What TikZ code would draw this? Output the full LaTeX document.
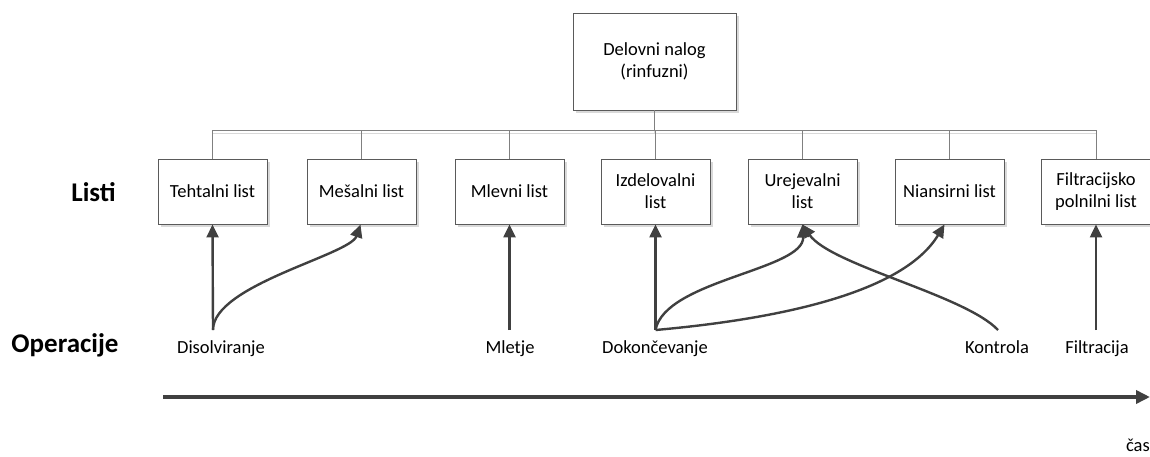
\documentclass[tikz,border=0pt]{standalone}
\usepackage{fontspec}
\setmainfont{Carlito}
\usetikzlibrary{arrows.meta,shadows}
\definecolor{boxline}{HTML}{5A5A5A}
\definecolor{arrowc}{HTML}{404040}
\definecolor{busc}{HTML}{808080}
\definecolor{shadc}{HTML}{D9D9D9}
\tikzset{
  listbox/.style={draw=boxline, line width=0.9pt, fill=white,
    minimum width=109pt, minimum height=65pt, inner sep=2pt,
    align=center, font=\fontsize{18.5}{22}\selectfont,
    drop shadow={shadow xshift=3pt, shadow yshift=-3pt, fill=shadc, opacity=1}},
  oplabel/.style={font=\fontsize{18.5}{22}\selectfont, inner sep=0pt,
    text height=12pt, text depth=4pt},
  rowlabel/.style={font=\fontsize{27}{30}\selectfont\bfseries, inner sep=0pt},
  bus/.style={draw=busc, line width=0.9pt},
  busshadow/.style={draw=shadc, line width=0.9pt, shift={(3,3)}},
  flow/.style={draw=arrowc, line width=2.4pt, -{Triangle[length=13pt,width=12pt]}},
  timeaxis/.style={draw=arrowc, line width=3.5pt, -{Triangle[length=14pt,width=13pt]}}
}
\begin{document}
\begin{tikzpicture}[x=1pt,y=-1pt]
\useasboundingbox (0,0) rectangle (1150,457);

% work order and the sheets it is split into
\node[listbox, minimum width=163pt, minimum height=97pt] (nalog) at (654.5,61.5) {Delovni nalog\\(rinfuzni)};
\node[listbox] (teh) at (212.5,191.5) {Tehtalni list};
\node[listbox] (mes) at (361.5,191.5) {Mešalni list};
\node[listbox] (mle) at (509.5,191.5) {Mlevni list};
\node[listbox] (izd) at (655.5,191.5) {Izdelovalni\\list};
\node[listbox] (ure) at (802.5,191.5) {Urejevalni\\list};
\node[listbox] (nia) at (949.5,191.5) {Niansirni list};
\node[listbox] (fil) at (1096,191.5) {Filtracijsko\\polnilni list};

% tree connectors (shadow first, then the line)
\foreach \s in {busshadow,bus}{
  \draw[\s] (nalog.south) -- (nalog.south |- 0,130);
  \draw[\s] (teh.north) -- (teh.north |- 0,130) -- (fil.north |- 0,130) -- (fil.north);
  \foreach \n in {mes,mle,izd,ure,nia}
    \draw[\s] (\n.north) -- (\n.north |- 0,130);
}

% row titles
\node[rowlabel] (listi) at (93.5,192) {Listi};
\node[rowlabel] (oper) at (65,345) {Operacije};

% operations
\node[oplabel] (dis) at (221,349) {Disolviranje};
\node[oplabel] (mlt) at (510,349) {Mletje};
\node[oplabel] (dok) at (655,349) {Dokončevanje};
\node[oplabel] (kon) at (997,349) {Kontrola};
\node[oplabel] (flt) at (1097,349) {Filtracija};

\coordinate (disT) at (213,330);
\coordinate (mltT) at (509.5,330);
\coordinate (dokT) at (655.5,330);
\coordinate (konT) at (998,330);
\coordinate (fltT) at (1096,330);

% operation -> sheet arrows
\draw[flow] (disT) -- (teh.south);
\draw[flow] (disT) .. controls (213,285) and (350,255) .. ([xshift=-1pt]mes.south);
\draw[flow] (mltT) -- (mle.south);
\draw[flow] (dokT) -- (izd.south);
\draw[flow] (dokT) .. controls (665,280) and (805,270) .. (ure.south);
\draw[flow] (dokT) .. controls (790,318) and (905,290) .. ([xshift=-5pt]nia.south);
\draw[flow] (konT) .. controls (965,295) and (830,265) .. (ure.south);
\draw[flow] (fltT) -- (fil.south);

% time axis
\coordinate (axA) at (163,397);
\coordinate (axB) at (1150,397);
\draw[timeaxis] (axA) -- (axB);
\node[oplabel, anchor=east] (cas) at (1150,447) {čas};
\end{tikzpicture}
\end{document}
